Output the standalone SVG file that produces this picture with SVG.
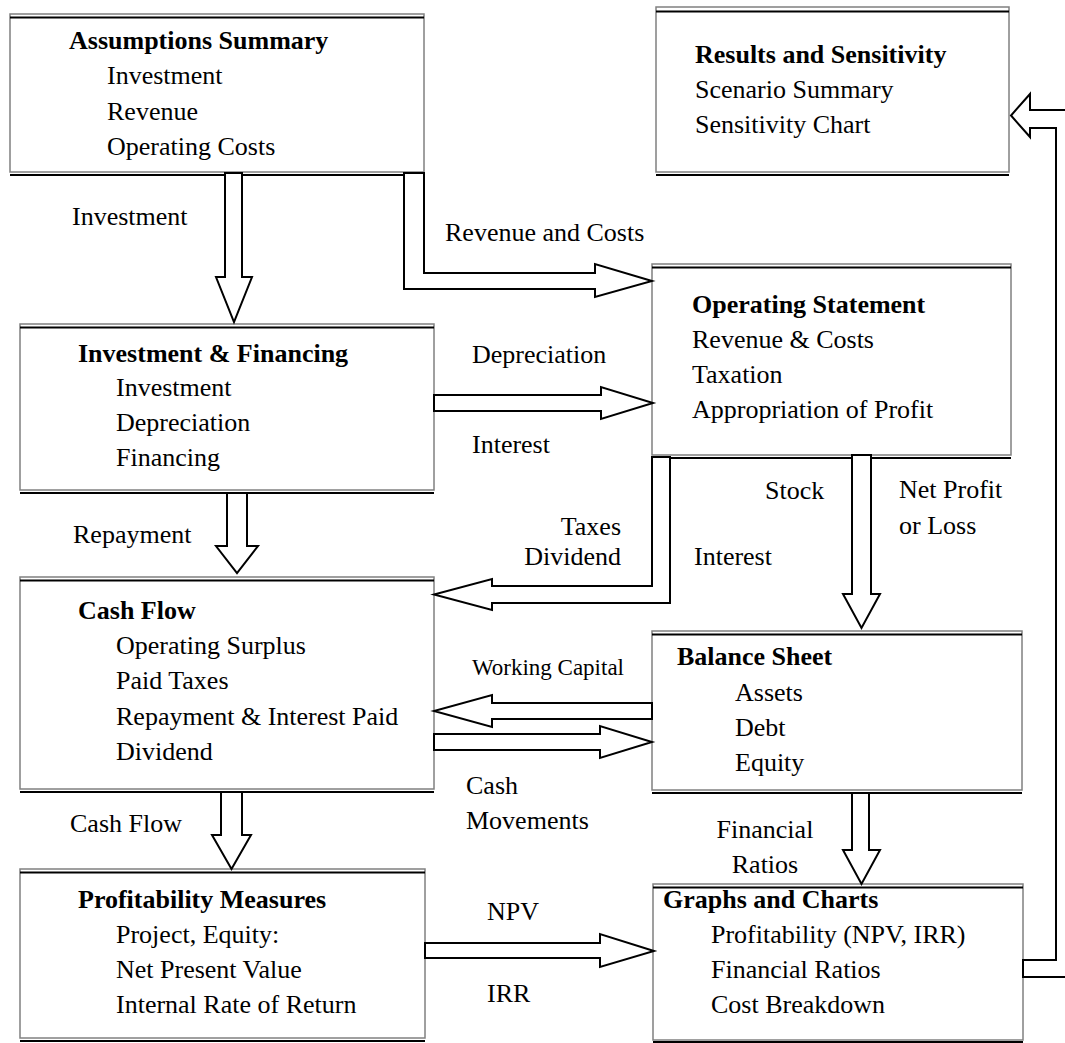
<svg xmlns="http://www.w3.org/2000/svg" width="1065" height="1043" viewBox="0 0 1065 1043">
<style>
text{font-family:"Liberation Serif","Times New Roman",serif;font-size:26px;fill:#000}
.b{font-weight:bold}
.frame{fill:#fff;stroke:#808080;stroke-width:1.5}
.edge{stroke:#000;stroke-width:2}
.arrow{fill:#fff;stroke:#000;stroke-width:2;stroke-linejoin:miter}
.sm{font-size:23px}
.end{text-anchor:end}
.mid{text-anchor:middle}
</style>
<rect width="1065" height="1043" fill="#fff"/>

<g id="assumptions">
<rect class="frame" x="10" y="14" width="414" height="158"/>
<line class="edge" x1="10" y1="17.5" x2="424" y2="17.5"/>
<line class="edge" x1="10" y1="175" x2="424" y2="175"/>
<text class="b" x="69" y="49">Assumptions Summary</text>
<text x="107" y="84">Investment</text>
<text x="107" y="120">Revenue</text>
<text x="107" y="155">Operating Costs</text>
</g>

<g id="results">
<rect class="frame" x="656" y="7" width="353" height="165"/>
<line class="edge" x1="656" y1="11.5" x2="1009" y2="11.5"/>
<line class="edge" x1="656" y1="175" x2="1009" y2="175"/>
<text class="b" x="695" y="63">Results and Sensitivity</text>
<text x="695" y="98">Scenario Summary</text>
<text x="695" y="133">Sensitivity Chart</text>
</g>

<g id="operating">
<rect class="frame" x="652" y="264" width="359" height="191"/>
<line class="edge" x1="652" y1="267.5" x2="1011" y2="267.5"/>
<line class="edge" x1="652" y1="458" x2="1011" y2="458"/>
<text class="b" x="692" y="313">Operating Statement</text>
<text x="692" y="348">Revenue &amp; Costs</text>
<text x="692" y="383">Taxation</text>
<text x="692" y="418">Appropriation of Profit</text>
</g>

<g id="investment">
<rect class="frame" x="20" y="324" width="414" height="166"/>
<line class="edge" x1="20" y1="327.5" x2="434" y2="327.5"/>
<line class="edge" x1="20" y1="493" x2="434" y2="493"/>
<text class="b" x="78" y="362">Investment &amp; Financing</text>
<text x="116" y="396">Investment</text>
<text x="116" y="431">Depreciation</text>
<text x="116" y="466">Financing</text>
</g>

<g id="cashflow">
<rect class="frame" x="20" y="577" width="414" height="212"/>
<line class="edge" x1="20" y1="580.5" x2="434" y2="580.5"/>
<line class="edge" x1="20" y1="792" x2="434" y2="792"/>
<text class="b" x="78" y="619">Cash Flow</text>
<text x="116" y="654">Operating Surplus</text>
<text x="116" y="689">Paid Taxes</text>
<text x="116" y="725">Repayment &amp; Interest Paid</text>
<text x="116" y="760">Dividend</text>
</g>

<g id="balance">
<rect class="frame" x="652" y="631" width="370" height="159"/>
<line class="edge" x1="652" y1="634.5" x2="1022" y2="634.5"/>
<line class="edge" x1="652" y1="793" x2="1022" y2="793"/>
<text class="b" x="677" y="665">Balance Sheet</text>
<text x="735" y="701">Assets</text>
<text x="735" y="736">Debt</text>
<text x="735" y="771">Equity</text>
</g>

<g id="profitability">
<rect class="frame" x="20" y="869" width="405" height="169"/>
<line class="edge" x1="20" y1="872.5" x2="425" y2="872.5"/>
<line class="edge" x1="20" y1="1041" x2="425" y2="1041"/>
<text class="b" x="78" y="908">Profitability Measures</text>
<text x="116" y="943">Project, Equity:</text>
<text x="116" y="978">Net Present Value</text>
<text x="116" y="1013">Internal Rate of Return</text>
</g>

<g id="graphs">
<rect class="frame" x="653" y="884" width="370" height="156"/>
<line class="edge" x1="653" y1="887.5" x2="1023" y2="887.5"/>
<line class="edge" x1="653" y1="1042" x2="1023" y2="1042"/>
<text class="b" x="663" y="908">Graphs and Charts</text>
<text x="711" y="943">Profitability (NPV, IRR)</text>
<text x="711" y="978">Financial Ratios</text>
<text x="711" y="1013">Cost Breakdown</text>
</g>

<g id="connectors">
<path class="arrow" d="M225,173 V277 H216 L234,322 L252,277 H242 V173 Z"/>
<path class="arrow" d="M404,173 V289 H595 V297 L652,281 L595,264 V273 H424 V173 Z"/>
<path class="arrow" d="M434,395 H601 V387 L653,403 L601,419 V411 H434 Z"/>
<path class="arrow" d="M227,493 V546 H216 L237,573 L258,546 H247 V493 Z"/>
<path class="arrow" d="M652,457 V586 H492 V579 L434,594.5 L492,610 V603 H670 V457 Z"/>
<path class="arrow" d="M852,455 V594 H843 L861.5,628 L880,594 H871 V455 Z"/>
<path class="arrow" d="M652,703 H492 V695 L434,711 L492,727 V719 H652 Z"/>
<path class="arrow" d="M434,734 H600 V726 L652,742 L600,758 V750 H434 Z"/>
<path class="arrow" d="M221,792 V835 H212 L231.5,869 L251,835 H242 V792 Z"/>
<path class="arrow" d="M852,793 V850 H843 L861.5,884 L880,850 H869 V793 Z"/>
<path class="arrow" d="M425,943 H600 V934 L654,951 L600,967 V958 H425 Z"/>
<path class="arrow" d="M1023,960 H1056 V128 H1030 V137 L1011,115.5 L1030,94 V110 H1080 V977 H1023 Z"/>
<text x="72" y="225">Investment</text>
<text x="445" y="241">Revenue and Costs</text>
<text x="472" y="363">Depreciation</text>
<text x="472" y="453">Interest</text>
<text x="73" y="543">Repayment</text>
<text class="end" x="621" y="535">Taxes</text>
<text class="end" x="621" y="565">Dividend</text>
<text x="765" y="499">Stock</text>
<text x="694" y="565">Interest</text>
<text x="899" y="498">Net Profit</text>
<text x="899" y="534">or Loss</text>
<text class="sm end" x="624" y="675">Working Capital</text>
<text x="466" y="794">Cash</text>
<text x="466" y="829">Movements</text>
<text x="70" y="832">Cash Flow</text>
<text class="mid" x="765" y="838">Financial</text>
<text class="mid" x="765" y="873">Ratios</text>
<text x="487" y="920">NPV</text>
<text x="487" y="1002">IRR</text>
</g>
</svg>
